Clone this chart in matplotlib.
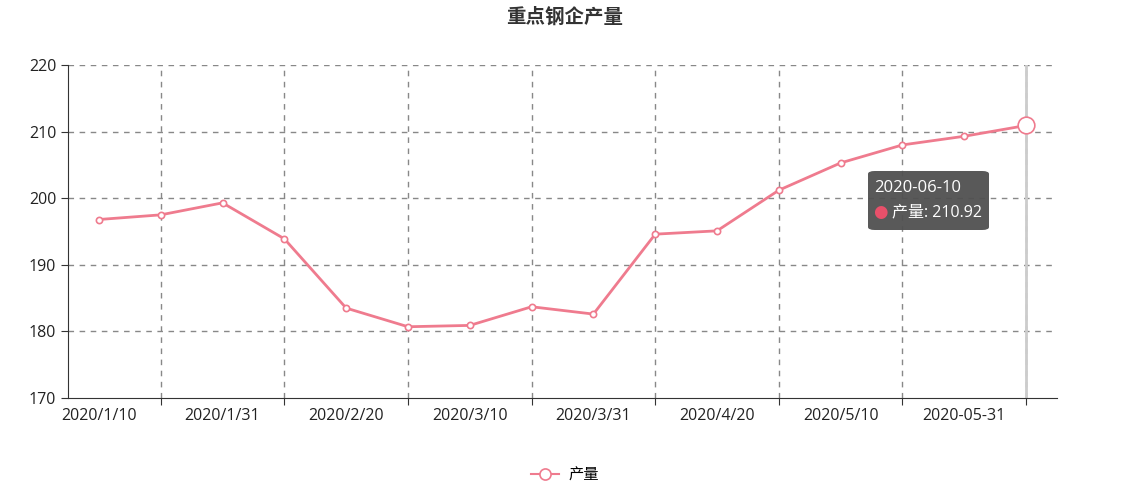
import matplotlib.pyplot as plt
from matplotlib.patches import FancyBboxPatch
from matplotlib.lines import Line2D
import numpy as np

plt.rcParams['font.family'] = ['Open Sans', 'Noto Sans CJK SC', 'DejaVu Sans']

dates = ['2020/1/10', '2020/1/20', '2020/1/31', '2020/2/10', '2020/2/20', '2020/2/29',
         '2020/3/10', '2020/3/20', '2020/3/31', '2020/4/10', '2020/4/20', '2020/4/30',
         '2020/5/10', '2020/5/20', '2020-05-31', '2020-06-10']
output = [196.8, 197.5, 199.3, 193.9, 183.5, 180.7, 180.9, 183.7,
          182.6, 194.6, 195.1, 201.2, 205.3, 208.0, 209.3, 210.92]
y_ticks = [170, 180, 190, 200, 210, 220]

line_col = '#ef7b8e'
W, H = 1131, 492
fig = plt.figure(figsize=(W / 100, H / 100), dpi=100)
ax = fig.add_axes([68 / W, (H - 398) / H, (1057 - 68) / W, (398 - 65) / H])

x = np.arange(len(dates))
ax.set_xlim(-0.5, len(dates) - 0.5)
ax.set_ylim(170, 220)

# grid: vertical lines at odd indexes, horizontal at y ticks
for i in x[1::2]:
    ax.axvline(i, color='#888888', lw=1, ls=(0, (4, 4)), zorder=1)
for v in y_ticks[1:]:
    ax.axhline(v, color='#888888', lw=1, ls=(0, (4, 4)), zorder=1)

# axis pointer of the tooltip
ax.axvline(x[-1], color='#cccccc', lw=2, zorder=2)

ax.plot(x, output, color=line_col, lw=2, marker='o', ms=4.5,
        mfc='white', mec=line_col, mew=1.2, zorder=3)
ax.plot(x[-1], output[-1], marker='o', ms=12, mfc='white', mec=line_col, mew=1.2, zorder=4)

ax.set_yticks(y_ticks)
ax.set_xticks(x[1::2])
ax.set_xticklabels([])
ax.tick_params(axis='x', length=5, color='#333333')
ax.tick_params(axis='y', length=5, color='#333333', labelsize=11.5, labelcolor='#222222')
for i in x[::2]:
    ax.text(i, -0.03, dates[i], transform=ax.get_xaxis_transform(), ha='center', va='top',
            fontsize=11.5, color='#222222')
for s in ['top', 'right']:
    ax.spines[s].set_visible(False)
for s in ['left', 'bottom']:
    ax.spines[s].set_color('#333333')

fig.text(565 / W, 1 - 18 / H, '重点钢企产量', ha='center', va='center',
         fontsize=14, fontweight='bold', color='#333333')

# tooltip
box = FancyBboxPatch((868 / W, 1 - 230 / H), (989 - 868) / W, (230 - 171) / H,
                     boxstyle='round,pad=0,rounding_size=0.006', transform=fig.transFigure,
                     fc='#505050', ec='none', alpha=0.95, zorder=10)
fig.patches.append(box)
fig.text(874 / W, 1 - 188 / H, dates[-1], ha='left', va='center', fontsize=12,
         color='white', zorder=11)
fig.text(880 / W, 1 - 212 / H, '●', ha='center', va='center', fontsize=12,
         color='#e8506a', family='DejaVu Sans', zorder=11)
fig.text(892 / W, 1 - 212 / H, '产量: ' + str(output[-1]), ha='left', va='center',
         fontsize=11.5, color='white', zorder=11)

handle = Line2D([], [], color=line_col, lw=1.5, marker='o', ms=8, mfc='white',
                mec=line_col, mew=1.2)
fig.legend([handle], ['产量'], loc='center', bbox_to_anchor=(565 / W, 1 - 476 / H),
           frameon=False, fontsize=11, handlelength=1.8, handletextpad=0.6)

fig.savefig('out.png', dpi=100)
